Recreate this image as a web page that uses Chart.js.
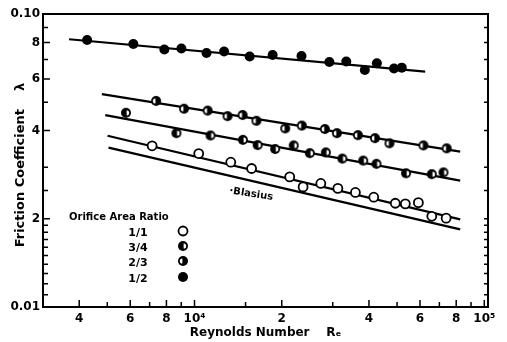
<!DOCTYPE html>
<html>
<head>
<meta charset="utf-8">
<script src="https://cdn.jsdelivr.net/npm/chart.js@4.4.0/dist/chart.umd.min.js"></script>
<style>
  html, body { margin: 0; padding: 0; background: #fff; }
  #wrap { width: 507px; height: 342px; }
</style>
</head>
<body>
<div id="wrap"><canvas id="chart" width="507" height="342"></canvas></div>
<script>
// measured points, one pair of arrays per orifice area ratio
const reHalf = [4260, 6150, 7870, 9010, 11000, 12650, 15500, 18600, 23400, 29200, 33400, 38700, 42600, 48800, 51900];
const lambdaHalf = [0.0815, 0.0790, 0.0757, 0.0763, 0.0736, 0.0745, 0.0716, 0.0725, 0.0719, 0.0686, 0.0688, 0.0644, 0.0679, 0.0652, 0.0656];

const reTwoThirds = [7370, 9200, 11100, 13000, 14650, 16350, 20560, 23450, 28170, 31000, 36630, 41960, 47080, 61640, 74150];
const lambdaTwoThirds = [0.0505, 0.0475, 0.0468, 0.0448, 0.0452, 0.0432, 0.0407, 0.0416, 0.0405, 0.0392, 0.0386, 0.0377, 0.0362, 0.0356, 0.0348];

const reThreeQuarters = [5800, 8660, 11360, 14690, 16520, 18980, 22000, 25000, 28390, 32380, 38210, 42460, 53700, 65900, 72300];
const lambdaThreeQuarters = [0.0460, 0.0392, 0.0385, 0.0372, 0.0357, 0.0346, 0.0356, 0.0335, 0.0337, 0.0321, 0.0316, 0.0308, 0.0286, 0.0284, 0.0288];

const reFull = [7140, 10340, 13340, 15740, 21310, 23700, 27280, 31240, 35910, 41550, 49310, 53400, 59230, 65900, 73850];
const lambdaFull = [0.0355, 0.0334, 0.0312, 0.0297, 0.0278, 0.0257, 0.0264, 0.0254, 0.0246, 0.0237, 0.0226, 0.0225, 0.0227, 0.0204, 0.0201];

// fitted straight lines (start, end)
const fitHalfRe = [3690, 62500];         const fitHalfLambda = [0.0820, 0.0636];
const fitTwoThirdsRe = [4790, 82600];    const fitTwoThirdsLambda = [0.0533, 0.0339];
const fitThreeQuartersRe = [4920, 82600]; const fitThreeQuartersLambda = [0.0452, 0.0270];
const fitFullRe = [5010, 82600];         const fitFullLambda = [0.0384, 0.0199];
const blasiusRe = [5050, 82600];         const blasiusLambda = [0.0350, 0.0184];

const ratioLabels = ['1/1', '3/4', '2/3', '1/2'];
const yTickValues = [0.01, 0.02, 0.04, 0.06, 0.08, 0.1];
const yTickTexts = ['0.01', '2', '4', '6', '8', '0.10'];
const xTickValues = [4000, 6000, 8000, 10000, 20000, 40000, 60000, 80000, 100000];
const xTickTexts = ['4', '6', '8', '10⁴', '2', '4', '6', '8', '10⁵'];

const FONT = '"DejaVu Sans", "Liberation Sans", sans-serif';

function pick(values, texts, v) {
  for (let i = 0; i < values.length; i++) {
    if (Math.abs(values[i] - v) / values[i] < 1e-6) return texts[i];
  }
  return '';
}

// black dot with a white slit on one side (the two "half" symbols)
function slitDot(side) {
  const c = document.createElement('canvas');
  c.width = 12; c.height = 12;
  const g = c.getContext('2d');
  g.fillStyle = '#000';
  g.beginPath(); g.arc(6, 6, 5, 0, Math.PI * 2); g.fill();
  g.fillStyle = '#fff';
  g.beginPath();
  if (side === 'right') g.arc(6.6, 6, 2.6, -Math.PI / 2, Math.PI / 2);
  else g.arc(5.4, 6, 2.6, Math.PI / 2, Math.PI * 1.5);
  g.closePath(); g.fill();
  return c;
}
const dotThreeQuarters = slitDot('right');
const dotTwoThirds = slitDot('left');

const pts = (xs, ys) => xs.map((x, i) => ({x: x, y: ys[i]}));

function pointSet(label, xs, ys, style) {
  return Object.assign({
    label: label,
    data: pts(xs, ys),
    showLine: false,
    borderColor: '#000',
    backgroundColor: '#000'
  }, style);
}
function lineSet(xs, ys) {
  return {
    data: pts(xs, ys),
    showLine: true,
    borderColor: '#000',
    borderWidth: 2.2,
    pointRadius: 0
  };
}

// frame, inward ticks, legend block and the Blasius label
const decorations = {
  id: 'decorations',
  afterDraw(chart) {
    const ctx = chart.ctx;
    const a = chart.chartArea;
    const xs = chart.scales.x, ys = chart.scales.y;
    ctx.save();
    ctx.strokeStyle = '#000';
    ctx.lineWidth = 2;
    ctx.strokeRect(a.left, a.top, a.right - a.left, a.bottom - a.top);

    ctx.lineWidth = 1.5;
    ctx.beginPath();
    ys.ticks.forEach(t => {
      const p = ys.getPixelForValue(t.value);
      if (p <= a.top + 1 || p >= a.bottom - 1) return;
      const len = pick(yTickValues, yTickTexts, t.value) ? 7 : 5;
      ctx.moveTo(a.left, p); ctx.lineTo(a.left + len, p);
      ctx.moveTo(a.right, p); ctx.lineTo(a.right - 4, p);
    });
    xs.ticks.forEach(t => {
      const p = xs.getPixelForValue(t.value);
      if (p <= a.left + 1 || p >= a.right - 1) return;
      const len = pick(xTickValues, xTickTexts, t.value) ? 7 : 5;
      ctx.moveTo(p, a.bottom); ctx.lineTo(p, a.bottom - len);
    });
    ctx.stroke();

    // legend
    ctx.fillStyle = '#000';
    ctx.textBaseline = 'middle';
    ctx.font = 'bold 10px ' + FONT;
    ctx.textAlign = 'left';
    ctx.fillText('Orifice Area Ratio', a.left + 26, a.top + 203);
    const rows = [a.top + 218, a.top + 233, a.top + 248, a.top + 264];
    ctx.font = 'bold 11px ' + FONT;
    ctx.textAlign = 'center';
    ratioLabels.forEach((lab, i) => {
      ctx.fillText(lab, a.left + 95, rows[i] + 1);
      const mx = a.left + 140, my = rows[i] - 1;
      if (i === 0) {
        ctx.fillStyle = '#fff';
        ctx.beginPath(); ctx.arc(mx, my, 4.5, 0, Math.PI * 2); ctx.fill();
        ctx.lineWidth = 1.8; ctx.stroke();
        ctx.fillStyle = '#000';
      } else if (i === 3) {
        ctx.beginPath(); ctx.arc(mx, my, 5, 0, Math.PI * 2); ctx.fill();
      } else {
        ctx.drawImage(i === 1 ? dotThreeQuarters : dotTwoThirds, mx - 6, my - 6);
      }
    });

    // Blasius label, anchored in data space
    const bx = xs.getPixelForValue(15700), by = ys.getPixelForValue(0.0243);
    ctx.translate(bx, by);
    ctx.rotate(9 * Math.PI / 180);
    ctx.font = 'bold 10px ' + FONT;
    ctx.textAlign = 'center';
    ctx.fillText('·Blasius', 0, 0);
    ctx.restore();
  }
};

new Chart(document.getElementById('chart'), {
  type: 'scatter',
  data: {
    datasets: [
      pointSet('1/1', reFull, lambdaFull, {pointStyle: 'circle', pointRadius: 4.5, backgroundColor: '#fff', borderWidth: 1.8}),
      pointSet('3/4', reThreeQuarters, lambdaThreeQuarters, {pointStyle: dotThreeQuarters}),
      pointSet('2/3', reTwoThirds, lambdaTwoThirds, {pointStyle: dotTwoThirds}),
      pointSet('1/2', reHalf, lambdaHalf, {pointStyle: 'circle', pointRadius: 5, borderWidth: 0}),
      lineSet(fitFullRe, fitFullLambda),
      lineSet(fitThreeQuartersRe, fitThreeQuartersLambda),
      lineSet(fitTwoThirdsRe, fitTwoThirdsLambda),
      lineSet(fitHalfRe, fitHalfLambda),
      lineSet(blasiusRe, blasiusLambda)
    ]
  },
  options: {
    responsive: false,
    animation: false,
    layout: { padding: { top: 14, right: 19, left: 0, bottom: 0 } },
    plugins: {
      legend: { display: false },
      tooltip: { enabled: false }
    },
    scales: {
      x: {
        type: 'logarithmic',
        min: 3000,
        max: 103000,
        grid: { display: false, drawTicks: false },
        border: { display: false },
        ticks: {
          autoSkip: false,
          maxRotation: 0,
          padding: 5,
          color: '#000',
          font: { family: FONT, size: 12, weight: 'bold' },
          callback: v => pick(xTickValues, xTickTexts, v)
        },
        title: {
          display: true,
          text: 'Reynolds Number    Rₑ',
          color: '#000',
          font: { family: FONT, size: 12, weight: 'bold' },
          padding: { top: 0, bottom: 2 }
        },
        afterFit: s => { s.height = 35; }
      },
      y: {
        type: 'logarithmic',
        min: 0.01,
        max: 0.1,
        grid: { display: false, drawTicks: false },
        border: { display: false },
        ticks: {
          autoSkip: false,
          padding: 3,
          color: '#000',
          font: { family: FONT, size: 12, weight: 'bold' },
          callback: v => pick(yTickValues, yTickTexts, v)
        },
        title: {
          display: true,
          text: 'Friction Coefficient    λ  ',
          color: '#000',
          font: { family: FONT, size: 13, weight: 'bold' },
          padding: { top: 13, bottom: 0 }
        },
        afterFit: s => { s.width = 43; }
      }
    }
  },
  plugins: [decorations]
});
</script>
</body>
</html>
